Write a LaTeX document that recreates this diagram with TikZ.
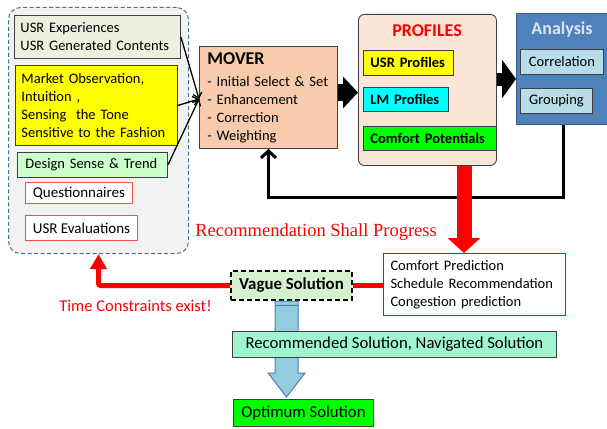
\documentclass[tikz,border=0pt]{standalone}
\usepackage{fontspec}
\setmainfont{Carlito}
\newfontfamily\timesfont{Liberation Serif}
\usetikzlibrary{arrows.meta,calc}
\definecolor{grpfill}{HTML}{F2F2F2}
\definecolor{grpblue}{HTML}{41719C}
\definecolor{usrfill}{HTML}{EBF1DE}
\definecolor{bdr}{HTML}{404040}
\definecolor{designfill}{HTML}{CCFFCC}
\definecolor{qred}{HTML}{FF4B4B}
\definecolor{moverfill}{HTML}{F8CBAD}
\definecolor{proffill}{HTML}{FBE5D6}
\definecolor{anafill}{HTML}{4F81BD}
\definecolor{anadraw}{HTML}{385D8A}
\definecolor{anatitle}{HTML}{DCE6F2}
\definecolor{corrfill}{HTML}{B7DEE8}
\definecolor{vaguefill}{HTML}{D5F2CF}
\definecolor{recfill}{HTML}{9FF5CF}
\definecolor{arrblue}{HTML}{93CDDD}
\definecolor{arrdraw}{HTML}{4A7EBB}
\definecolor{pyellow}{HTML}{FFFF00}
\definecolor{pcyan}{HTML}{00FFFF}
\definecolor{pgreen}{HTML}{00FF00}
\begin{document}
\begin{tikzpicture}[x=1pt,y=-1pt,
  every node/.style={font=\fontsize{14.5}{18}\selectfont},
  bx/.style={draw=bdr, line width=0.9pt, anchor=north west, inner xsep=6pt, inner ysep=0pt, align=left},
  cbx/.style={draw=bdr, line width=0.9pt, anchor=north west, inner sep=0pt, align=center},
  bigtitle/.style={font=\fontsize{18}{22}\selectfont\bfseries},
  thinarrow/.style={line width=1.3pt, -{Straight Barb[length=5pt,width=9pt]}}
]
\useasboundingbox (0,0) rectangle (607,428);

% left group
\node[draw=grpblue, dash pattern=on 4pt off 2.5pt, line width=1pt, rounded corners=12pt, fill=grpfill,
  minimum width=180pt, minimum height=246pt, anchor=north west, inner sep=0pt] (grp) at (8,7) {};
\node[bx, fill=usrfill, text width=154pt, minimum height=43pt] (usr) at (14,15) {USR Experiences\\USR Generated Contents};
\node[bx, fill=pyellow, text width=150pt, minimum height=80pt] (mkt) at (15,65) {Market Observation,\\Intuition ,\\Sensing\ \ the Tone\\Sensitive to the Fashion};
\node[bx, fill=designfill, inner xsep=8pt, text width=134pt, minimum height=25pt] (design) at (17,152) {Design Sense \& Trend};
\node[cbx, draw=qred, fill=white, minimum width=107pt, minimum height=21pt, font=\fontsize{15}{18}\selectfont] (quest) at (25,182) {Questionnaires};
\node[cbx, draw=qred, fill=white, minimum width=112pt, minimum height=25pt, font=\fontsize{15}{18}\selectfont] (usreval) at (25,215) {USR Evaluations};

% MOVER
\node[bx, fill=moverfill, inner xsep=8pt, text width=122pt, minimum height=102pt] (mover) at (199,46)
  {{\fontsize{18}{20}\selectfont\bfseries MOVER}\\[4pt]- Initial Select \& Set\\- Enhancement\\- Correction\\- Weighting};

% PROFILES
\node[draw=bdr, line width=0.9pt, rounded corners=6pt, fill=proffill, minimum width=138pt, minimum height=151pt,
  anchor=north west, inner sep=0pt] (prof) at (358,14) {};
\node[bigtitle, text=red] (proftitle) at (427,31) {PROFILES};
\node[bx, fill=pyellow, inner xsep=7pt, text width=76pt, minimum height=25pt, font=\fontsize{14.5}{18}\selectfont\bfseries] (usrprof) at (363,50) {USR Profiles};
\node[bx, fill=pcyan, inner xsep=7pt, text width=71pt, minimum height=24pt, font=\fontsize{14.5}{18}\selectfont\bfseries] (lmprof) at (363,87) {LM Profiles};
\node[bx, fill=pgreen, inner xsep=7pt, text width=119pt, minimum height=24pt, font=\fontsize{14.5}{18}\selectfont\bfseries] (comfpot) at (363,126) {Comfort Potentials};

% Analysis
\node[draw=anadraw, line width=1.2pt, fill=anafill, minimum width=91pt, minimum height=111pt,
  anchor=north west, inner sep=0pt] (ana) at (516,13) {};
\node[bigtitle, text=anatitle] (anatitle) at (562,30) {Analysis};
\node[cbx, fill=corrfill, minimum width=83pt, minimum height=25pt] (corr) at (520,49) {Correlation};
\node[cbx, fill=corrfill, minimum width=72pt, minimum height=25pt] (group) at (520,88) {Grouping};

% bottom part
\node[draw=red, line width=1pt, fill=white, anchor=north west, inner xsep=7pt, inner ysep=0pt, align=left,
  text width=168pt, minimum height=62pt] (cp) at (383,253) {Comfort Prediction\\Schedule Recommendation\\Congestion prediction};
\node[text=red, font=\fontsize{18.5}{22}\timesfont] (rsp) at (316,232) {Recommendation Shall Progress};
\node[anchor=north west, fill=vaguefill, draw=black, line width=2pt, dash pattern=on 5pt off 3pt,
  minimum width=121pt, minimum height=29pt, inner sep=0pt, font=\fontsize{16.8}{20}\selectfont\bfseries] (vague) at (230,270) {Vague Solution};
\node[text=red, font=\fontsize{16.5}{20}\selectfont] (tce) at (135.5,306) {Time Constraints exist!};

% blue block arrow
\filldraw[fill=arrblue, draw=arrdraw, line width=1pt]
  (275,301) -- (298,301) -- (298,373) -- (305,373) -- (286.5,397) -- (268,373) -- (275,373) -- cycle;
\draw[arrdraw, line width=0.8pt] (275,305) -- (298,305);

\node[cbx, fill=recfill, minimum width=324pt, minimum height=26pt, font=\fontsize{16.7}{20}\selectfont] (rec) at (232,331) {Recommended Solution, Navigated Solution};
\node[cbx, fill=pgreen, minimum width=140pt, minimum height=27pt, font=\fontsize{16.7}{20}\selectfont] (opt) at (233,399) {Optimum Solution};

% connectors
\draw[thinarrow] (usr.east) -- (mover.west |- 0,99);
\draw[thinarrow] (mkt.east) -- (mover.west |- 0,99);
\draw[thinarrow] (design.east) -- (mover.west |- 0,99);

\draw[line width=17pt, -{Triangle[length=15pt,width=31pt]}] (mover.east |- 0,92.5) -- (prof.west |- 0,92.5);
\draw[line width=13pt, -{Triangle[length=14pt,width=38pt]}] (prof.east |- 0,79) -- (ana.west |- 0,79);

\draw[line width=3pt, -{Straight Barb[length=7pt,width=15pt]}] (ana.south -| 563,0) -- (563,197) -| (mover.south);

\draw[red, line width=15pt, -{Triangle[length=15pt,width=32pt]}] (prof.south -| 464,0) -- (cp.north -| 464,0);
\draw[red, line width=5pt] (vague.east) -- (cp.west |- vague.east);
\draw[red, line width=5pt, rounded corners=2pt, -{Triangle[length=15pt,width=16pt]}] (vague.west) -| (grp.south);
\end{tikzpicture}
\end{document}
